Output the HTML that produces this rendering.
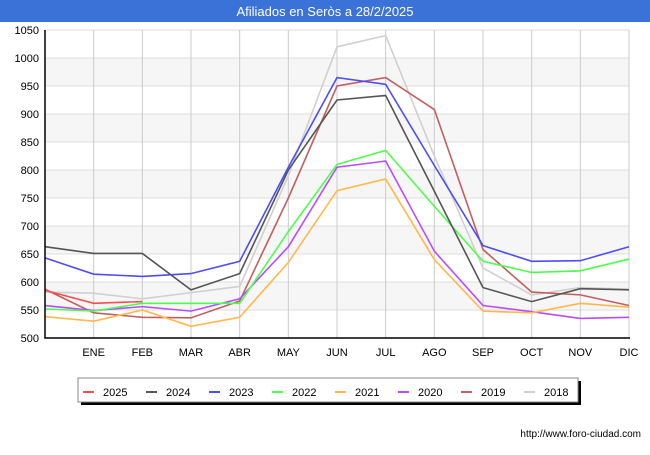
<!DOCTYPE html>
<html><head><meta charset="utf-8"><style>
body{margin:0;width:650px;height:450px;background:#fff;font-family:"Liberation Sans","DejaVu Sans",sans-serif;overflow:hidden}
</style></head><body>
<svg id="c" width="650" height="450" xmlns="http://www.w3.org/2000/svg">
<rect x="0" y="0" width="650" height="22" fill="#3a72d8"/>
<text x="325" y="16" text-anchor="middle" fill="#fff" font-size="13">Afiliados en Seròs a 28/2/2025</text>
<g id="grid"></g><g id="series"></g><g id="axes"></g>
<rect x="81" y="381" width="500" height="24" fill="#000"/>
<rect x="78" y="378" width="500" height="24" fill="#fff" stroke="#888"/>
<g id="legend"></g>
<text x="641" y="437" text-anchor="end" font-size="10" fill="#000">http://www.foro-ciudad.com</text>
</svg>
<script>
const months=["","ENE","FEB","MAR","ABR","MAY","JUN","JUL","AGO","SEP","OCT","NOV","DIC"];
const yTicks=[500,550,600,650,700,750,800,850,900,950,1000,1050];
const years=["2025","2024","2023","2022","2021","2020","2019","2018"];
const colors=["#ff4d4d","#555555","#4d4dff","#4dff4d","#ffb84d","#b84dff","#c06060","#d0d0d0"];
const s2025=[585,562,565];
const s2024=[663,651,651,586,615,800,925,933,762,590,565,588,586];
const s2023=[643,614,610,615,637,805,965,953,808,665,637,638,663];
const s2022=[552,548,562,562,562,690,810,835,735,637,617,620,641];
const s2021=[538,530,550,521,537,635,763,784,640,548,545,562,555];
const s2020=[558,549,556,548,570,663,805,816,655,558,547,535,537];
const s2019=[587,545,537,536,566,750,950,965,908,658,582,577,558];
const s2018=[582,580,570,581,592,790,1020,1040,825,625,577,590,587];
const series=[s2025,s2024,s2023,s2022,s2021,s2020,s2019,s2018];
const X0=45,X1=629,Y0=338,Y1=30,VMIN=500,VMAX=1050;
const xs=i=>X0+i*(X1-X0)/12;
const ys=v=>Y0-(v-VMIN)*(Y0-Y1)/(VMAX-VMIN);
const NS="http://www.w3.org/2000/svg";
function mk(tag,at,parent){const e=document.createElementNS(NS,tag);for(const k in at)e.setAttribute(k,at[k]);parent.appendChild(e);return e;}
const G=document.getElementById("grid"),S=document.getElementById("series"),A=document.getElementById("axes"),L=document.getElementById("legend");
for(let i=0;i<yTicks.length-1;i++){if(i%2===1){const r=mk("rect",{x:X0,y:ys(yTicks[i+1]),width:X1-X0,height:ys(yTicks[i])-ys(yTicks[i+1]),fill:"#f6f6f6"},G);

}}
yTicks.forEach(v=>{const l=mk("line",{x1:X0,x2:X1,y1:ys(v),y2:ys(v),stroke:"#ddd"},G);


const t=mk("text",{x:X0-6,y:ys(v)+4,"text-anchor":"end","font-size":"11"},A);t.textContent=v;

});
months.forEach((m,i)=>{if(i>0){const l=mk("line",{x1:xs(i),x2:xs(i),y1:Y1,y2:Y0,stroke:"#ccc"},G);


const t=mk("text",{x:xs(i),y:Y0+18,"text-anchor":"middle","font-size":"11"},A);t.textContent=m;

}});
const ax=mk("path",{d:`M${X0},${Y1}V${Y0}H${X1+1}`,fill:"none",stroke:"#000","stroke-width":1.5},A);


for(let k=series.length-1;k>=0;k--){const d=series[k].map((v,i)=>(i?"L":"M")+xs(i)+","+ys(v)).join("");
const p=mk("path",{d:d,fill:"none",stroke:colors[k],"stroke-width":1.6},S);

}
years.forEach((y,k)=>{const x=83+k*63;
const l=mk("line",{x1:x,x2:x+11,y1:392,y2:392,stroke:colors[k],"stroke-width":2},L);


const t=mk("text",{x:x+20,y:396,"font-size":"11"},L);t.textContent=y;

});
</script>
</body></html>
